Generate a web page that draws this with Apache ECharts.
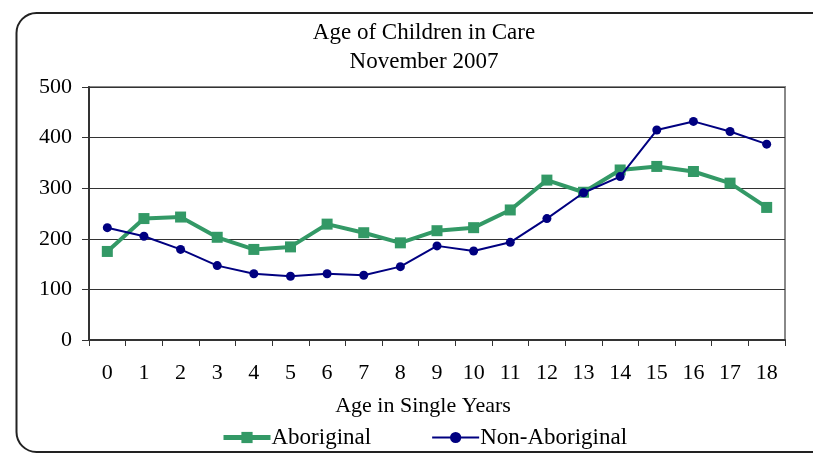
<!DOCTYPE html>
<html>
<head>
<meta charset="utf-8">
<script src="https://cdn.jsdelivr.net/npm/echarts@6/dist/echarts.min.js"></script>
<style>
  html, body { margin: 0; padding: 0; background: #fff; }
  #chart { width: 813px; height: 455px; }
</style>
</head>
<body>
<div id="chart"></div>
<script>
const ages = ['0', '1', '2', '3', '4', '5', '6', '7', '8', '9', '10', '11', '12', '13', '14', '15', '16', '17', '18']
const aboriginal = [175, 240, 243, 203, 179, 184, 229, 212, 192, 216, 222, 257, 316, 292, 336, 343, 333, 310, 262]
const nonAboriginal = [222, 205, 179, 147, 131, 126, 131, 128, 145, 186, 176, 193, 240, 291, 323, 415, 432, 412, 387]

const font = 'Liberation Serif'

const chart = echarts.init(document.getElementById('chart'))

chart.setOption({
  animation: false,
  textStyle: { fontFamily: font, color: '#000' },
  title: {
    text: 'Age of Children in Care\nNovember 2007',
    left: 424,
    top: 18,
    padding: 0,
    textAlign: 'center',
    textStyle: { fontFamily: font, fontSize: 23, fontWeight: 'normal', color: '#000', lineHeight: 29 }
  },
  graphic: [
    {
      type: 'rect',
      shape: { x: 16.5, y: 13, width: 840, height: 439, r: 20 },
      style: { fill: 'none', stroke: '#222', lineWidth: 2 },
      z: 0
    }
  ],
  legend: {
    left: 221,
    top: 426,
    itemWidth: 47,
    itemHeight: 14,
    itemGap: 60,
    padding: 0,
    textStyle: { fontFamily: font, fontSize: 23, color: '#000', padding: [0, 0, 0, -4] },
    data: [
      { name: 'Aboriginal', lineStyle: { width: 5 }, itemStyle: { color: '#339966' } },
      { name: 'Non-Aboriginal', lineStyle: { width: 2 }, itemStyle: { color: '#000080' } }
    ]
  },
  grid: {
    left: 89,
    right: 28,
    top: 87,
    bottom: 115,
    show: true,
    borderColor: '#888',
    borderWidth: 2
  },
  xAxis: {
    type: 'category',
    data: ages,
    boundaryGap: true,
    name: 'Age in Single Years',
    nameLocation: 'middle',
    nameGap: 55,
    nameTextStyle: { fontFamily: font, fontSize: 22, color: '#000', padding: [0, 28, 0, 0] },
    axisLine: { lineStyle: { color: '#333', width: 2 } },
    axisTick: { show: true, length: 6, interval: 0, lineStyle: { color: '#333' } },
    axisLabel: { interval: 0, margin: 22, fontFamily: font, fontSize: 22, color: '#000' }
  },
  yAxis: {
    type: 'value',
    min: 0,
    max: 500,
    interval: 100,
    axisLine: { show: true, lineStyle: { color: '#333', width: 2 } },
    axisTick: { show: true, length: 7, lineStyle: { color: '#333' } },
    axisLabel: { margin: 17, fontFamily: font, fontSize: 22, color: '#000' },
    splitLine: { lineStyle: { color: '#333', width: 1 } }
  },
  series: [
    {
      name: 'Aboriginal',
      type: 'line',
      data: aboriginal,
      symbol: 'rect',
      symbolSize: 11,
      lineStyle: { color: '#339966', width: 4 },
      itemStyle: { color: '#339966' },
      z: 3
    },
    {
      name: 'Non-Aboriginal',
      type: 'line',
      data: nonAboriginal,
      symbol: 'circle',
      symbolSize: 9,
      lineStyle: { color: '#000080', width: 2 },
      itemStyle: { color: '#000080' },
      z: 4
    }
  ]
})
</script>
</body>
</html>
